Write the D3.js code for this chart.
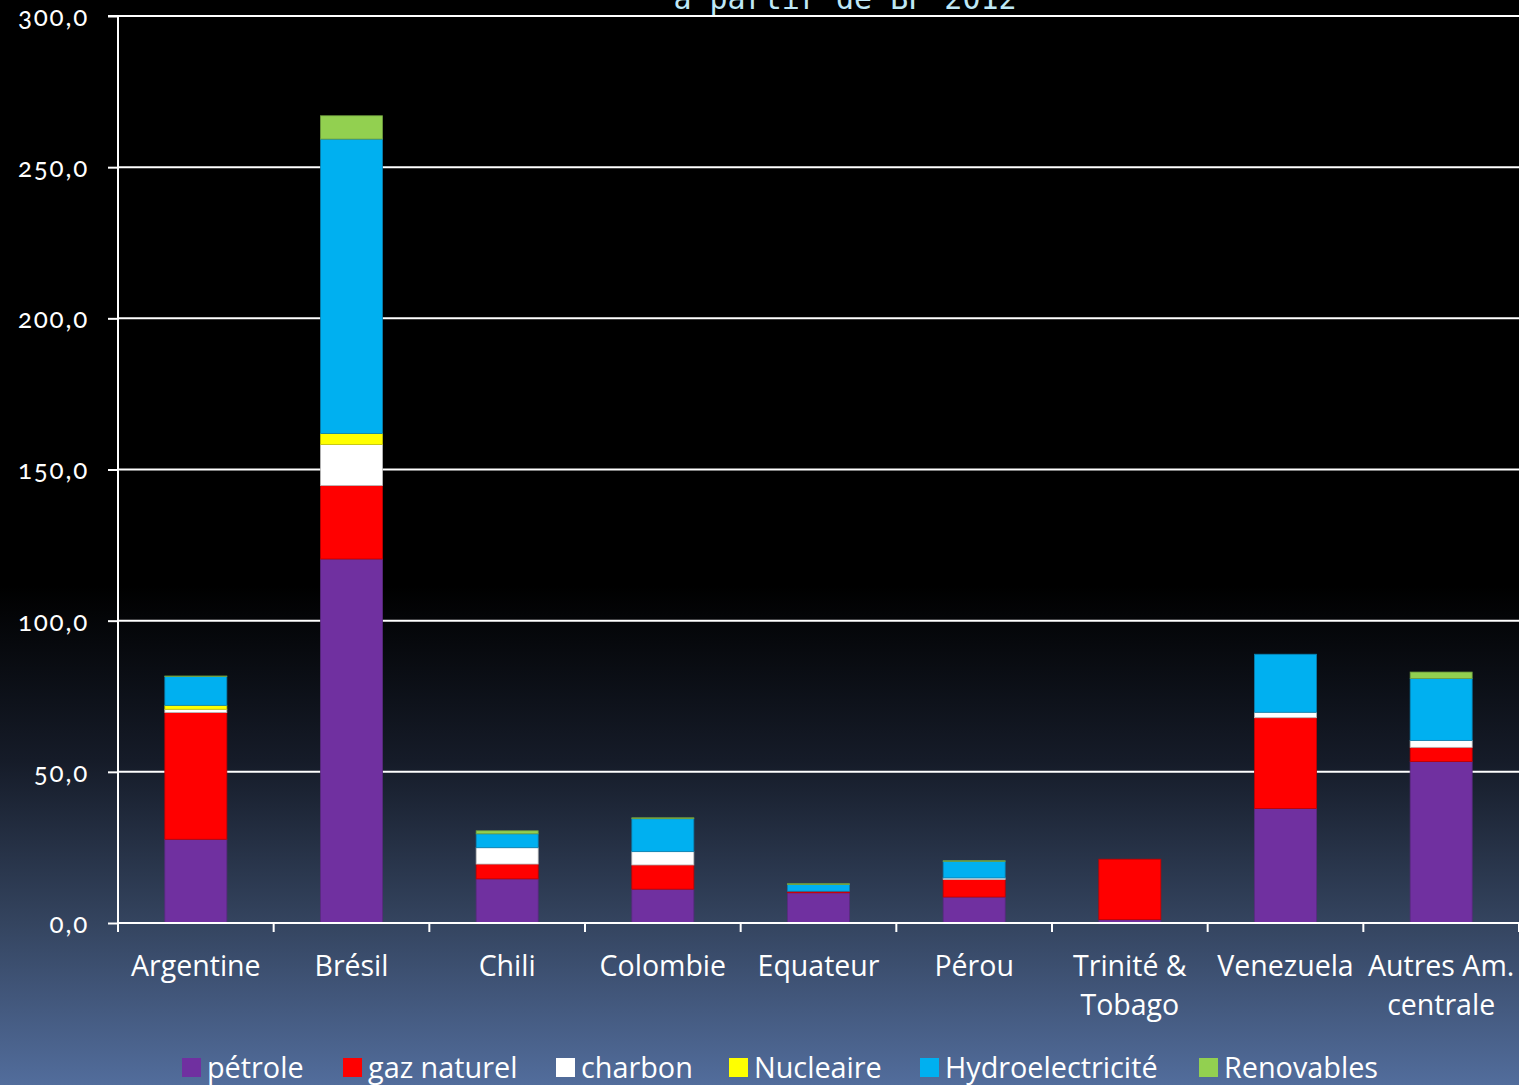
<!DOCTYPE html>
<html><head><meta charset="utf-8">
<script src="https://cdn.jsdelivr.net/npm/d3@7"></script>
<style>
html,body{margin:0;padding:0;background:#000;overflow:hidden}
svg{display:block}
text{font-family:"Open Sans","Noto Sans",sans-serif}
.ytl{font-family:Lato,"Noto Sans",sans-serif;font-feature-settings:"onum" 1;font-variant-numeric:oldstyle-nums;letter-spacing:1.8px}
</style></head><body>
<svg id="c" width="1519" height="1085"></svg>
<script>
const categories = ["Argentine","Brésil","Chili","Colombie","Equateur","Pérou","Trinité &\nTobago","Venezuela","Autres Am.\ncentrale"];
const seriesNames = ["pétrole","gaz naturel","charbon","Nucleaire","Hydroelectricité","Renovables"];
const petrole     = [27.7, 120.4, 14.6, 11.2, 10.0, 8.6, 1.1, 37.9, 53.4];
const gazNaturel  = [41.9,  24.3,  4.9,  8.0,  0.5, 5.8, 20.0, 30.0, 4.7];
const charbon     = [ 1.1,  13.6,  5.4,  4.4,  0.0, 0.5, 0.0, 1.8, 2.3];
const nucleaire   = [ 1.3,   3.6,  0.0,  0.0,  0.0, 0.0, 0.0, 0.0, 0.0];
const hydro       = [ 9.5,  97.4,  4.6, 10.9,  2.2, 5.5, 0.0, 19.2, 20.5];
const renouvelables=[ 0.2,   7.7,  1.0,  0.3,  0.3, 0.2, 0.0, 0.0, 2.1];
const yTicks = [0,50,100,150,200,250,300];
const colors = ["#7030a0","#ff0000","#ffffff","#ffff00","#00b0f0","#92d050"];
const strokes = ["#5a2a80","#c00000","#bbbbbb","#c8c800","#0a80b0","#70a040"];

const svg = d3.select("#c");
const W = 1519, H = 1085;
const defs = svg.append("defs");
const g = defs.append("linearGradient").attr("id","bg").attr("x1",0).attr("y1",0).attr("x2",0).attr("y2",1);
g.append("stop").attr("offset","0%").attr("stop-color","#000000");
g.append("stop").attr("offset","54%").attr("stop-color","#000000");
g.append("stop").attr("offset","70%").attr("stop-color","#151b28");
g.append("stop").attr("offset","85%").attr("stop-color","#34445f");
g.append("stop").attr("offset","100%").attr("stop-color","#526d9c");
svg.append("rect").attr("width",W).attr("height",H).attr("fill","url(#bg)");

// title fragment
svg.append("text").attr("x",845).attr("y",9).attr("text-anchor","middle")
  .attr("fill","#bfe8f6").attr("font-size",30).style("font-family","DejaVu Sans Mono")
  .text("à partir de BP 2012");

const x0 = 118, x1 = 1519, yTop = 16, yBot = 923;
const x = d3.scaleBand().domain(categories).range([x0,x1]).paddingInner(0).paddingOuter(0);
const y = d3.scaleLinear().domain([0,300]).range([yBot,yTop]);

// gridlines
svg.append("g").selectAll("line").data(yTicks.filter(d=>d>0)).join("line")
  .attr("x1",x0).attr("x2",x1).attr("y1",d=>y(d)).attr("y2",d=>y(d))
  .attr("stroke","#ffffff").attr("stroke-width",2);

// stacked data
const table = categories.map((c,i)=>({cat:c,
  "pétrole":petrole[i],"gaz naturel":gazNaturel[i],"charbon":charbon[i],
  "Nucleaire":nucleaire[i],"Hydroelectricité":hydro[i],"Renovables":renouvelables[i]}));
const stack = d3.stack().keys(seriesNames)(table);
const bw = 62;
stack.forEach((layer,si)=>{
  svg.append("g").selectAll("rect").data(layer.filter(d=>d[1]-d[0]>0)).join("rect")
    .attr("x",d=>x(d.data.cat)+x.bandwidth()/2-bw/2)
    .attr("width",bw)
    .attr("y",d=>y(d[1]))
    .attr("height",d=>y(d[0])-y(d[1]))
    .attr("fill",colors[si])
    .attr("stroke",strokes[si]).attr("stroke-width",0.8);
});

// y axis
const yAxis = d3.axisLeft(y).tickValues(yTicks).tickSize(10).tickPadding(19)
  .tickFormat(d=>d3.format(".1f")(d).replace(".",","));
const ya = svg.append("g").attr("transform",`translate(${x0},0)`).call(yAxis);
ya.select(".domain").attr("stroke","#fff").attr("stroke-width",2).attr("d",`M-10,${yTop}H0V${yBot+7}`);
ya.selectAll(".tick line").attr("stroke","#fff").attr("stroke-width",2);
ya.selectAll(".tick text").attr("class","ytl").attr("fill","#fff").attr("font-size",26)
  .attr("dy","0.36em");

// x axis
const xa = svg.append("g").attr("transform",`translate(0,${yBot})`);
xa.append("line").attr("x1",x0).attr("x2",x1).attr("y1",0).attr("y2",0).attr("stroke","#fff").attr("stroke-width",2);
const bounds = categories.map(c=>x(c)).concat([x1]);
xa.selectAll("line.tk").data(bounds).join("line").attr("class","tk")
  .attr("x1",d=>d).attr("x2",d=>d).attr("y1",0).attr("y2",9).attr("stroke","#fff").attr("stroke-width",2);
const xl = xa.selectAll("text.lab").data(categories).join("text").attr("class","lab")
  .attr("x",d=>x(d)+x.bandwidth()/2).attr("y",53).attr("text-anchor","middle")
  .attr("fill","#fff").attr("font-size",28.5);
xl.each(function(d){
  const parts = d.split("\n");
  const t = d3.select(this);
  parts.forEach((p,i)=>t.append("tspan").attr("x",x(d)+x.bandwidth()/2).attr("dy",i===0?0:39).text(p));
});

// legend
const legX = [182,343,556,729,920,1199];
const lg = svg.append("g").selectAll("g").data(seriesNames).join("g")
  .attr("transform",(d,i)=>`translate(${legX[i]},1067)`);
lg.append("rect").attr("x",0).attr("y",-9).attr("width",19).attr("height",19).attr("fill",(d,i)=>colors[i]);
lg.append("text").attr("x",25).attr("y",11).attr("fill","#fff").attr("font-size",28.8)
  .style("font-family","'Liberation Sans Narrow','Open Sans',sans-serif").text(d=>d);
</script>
</body></html>
